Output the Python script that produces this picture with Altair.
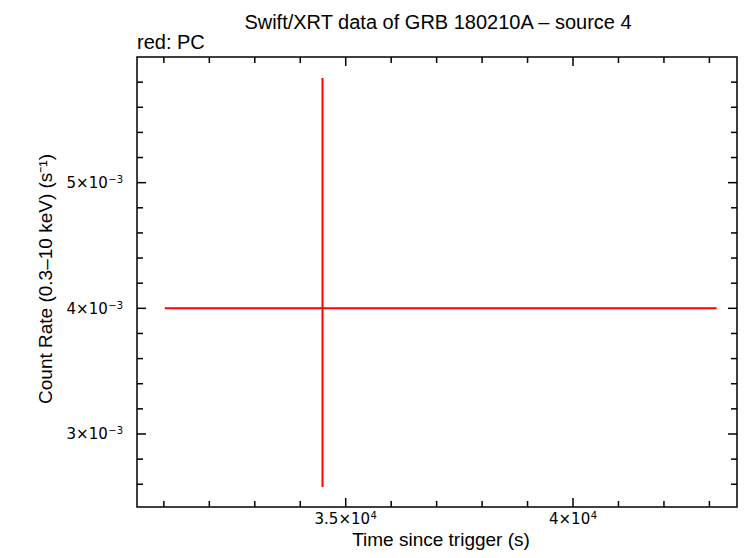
import altair as alt
import pandas as pd

# ---- data ----
time = [34490]
time_lo = [31020]
time_hi = [43160]
rate = [0.00400]
rate_lo = [0.002578]
rate_hi = [0.005833]

x_domain = [30409, 43607]
y_domain = [0.002419, 0.006]

x_major = [35000, 40000]
x_label_base = ["3.5×10", "4×10"]
x_label_exp = ["4", "4"]
x_minor = [31000, 32000, 33000, 34000, 36000, 37000, 38000, 39000, 41000, 42000, 43000]

y_major = [0.003, 0.004, 0.005]
y_label_base = ["3×10", "4×10", "5×10"]
y_label_exp = ["−3", "−3", "−3"]
y_minor = [0.0026, 0.0028, 0.0032, 0.0034, 0.0036, 0.0038, 0.0042, 0.0044,
           0.0046, 0.0048, 0.0052, 0.0054, 0.0056, 0.0058]

title_text = "Swift/XRT data of GRB 180210A – source 4"
legend_text = "red: PC"
x_title = "Time since trigger (s)"
y_title = "Count Rate (0.3–10 keV) (s⁻¹)"

W, H = 600, 450
FONT = "Liberation Sans"
LFONT = "DejaVu Sans"
LSIZE = 15
ESIZE = 10
RED = "#ff0000"

# approximate DejaVu Sans advance widths (em) for label layout
_EM = {".": 0.318, "×": 0.838, "−": 0.838}


def text_w(s, size):
    return sum(_EM.get(c, 0.636) for c in s) * size


pts = pd.DataFrame({"t": time, "tlo": time_lo, "thi": time_hi,
                    "r": rate, "rlo": rate_lo, "rhi": rate_hi})

xscale = alt.Scale(domain=x_domain, nice=False, zero=False)
yscale = alt.Scale(domain=y_domain, nice=False, zero=False)

hbar = alt.Chart(pts).mark_rule(color=RED, strokeWidth=2).encode(
    x=alt.X("tlo:Q", scale=xscale, axis=None),
    x2="thi:Q",
    y=alt.Y("r:Q", scale=yscale, axis=None),
)
vbar = alt.Chart(pts).mark_rule(color=RED, strokeWidth=2).encode(
    x=alt.X("t:Q", scale=xscale, axis=None),
    y=alt.Y("rlo:Q", scale=yscale, axis=None),
    y2="rhi:Q",
)


def xticks(values, length):
    df = pd.DataFrame({"v": values})
    bottom = alt.Chart(df).mark_rule(color="black", strokeWidth=1.5).encode(
        x=alt.X("v:Q", scale=xscale, axis=None),
        y=alt.value(H), y2=alt.value(H - length))
    top = alt.Chart(df).mark_rule(color="black", strokeWidth=1.5).encode(
        x=alt.X("v:Q", scale=xscale, axis=None),
        y=alt.value(0), y2=alt.value(length))
    return [bottom, top]


def yticks(values, length):
    df = pd.DataFrame({"v": values})
    left = alt.Chart(df).mark_rule(color="black", strokeWidth=1.5).encode(
        y=alt.Y("v:Q", scale=yscale, axis=None),
        x=alt.value(0), x2=alt.value(length))
    right = alt.Chart(df).mark_rule(color="black", strokeWidth=1.5).encode(
        y=alt.Y("v:Q", scale=yscale, axis=None),
        x=alt.value(W), x2=alt.value(W - length))
    return [left, right]


# x tick labels: base + raised exponent, centred as a whole on the tick
xlabels = []
for v, b, e in zip(x_major, x_label_base, x_label_exp):
    df = pd.DataFrame({"v": [v]})
    bw, ew, gap = text_w(b, LSIZE), text_w(e, ESIZE), 0.5
    total = bw + gap + ew
    xlabels.append(alt.Chart(df).mark_text(
        text=b, font=LFONT, fontSize=LSIZE, align="left",
        baseline="alphabetic", color="black", dx=-total / 2).encode(
        x=alt.X("v:Q", scale=xscale, axis=None), y=alt.value(H + 16.5)))
    xlabels.append(alt.Chart(df).mark_text(
        text=e, font=LFONT, fontSize=ESIZE, align="left",
        baseline="alphabetic", color="black",
        dx=-total / 2 + bw + gap).encode(
        x=alt.X("v:Q", scale=xscale, axis=None), y=alt.value(H + 12)))

# y tick labels
ylab_df = pd.DataFrame({"v": y_major, "b": y_label_base, "e": y_label_exp})
exp_w = text_w(y_label_exp[0], ESIZE)
ylabels_base = alt.Chart(ylab_df).mark_text(
    font=LFONT, fontSize=LSIZE, align="right", baseline="alphabetic",
    color="black", dy=5.5).encode(
    y=alt.Y("v:Q", scale=yscale, axis=None),
    x=alt.value(-14 - exp_w - 0.5), text="b:N")
ylabels_exp = alt.Chart(ylab_df).mark_text(
    font=LFONT, fontSize=ESIZE, align="right", baseline="alphabetic",
    color="black", dy=0.5).encode(
    y=alt.Y("v:Q", scale=yscale, axis=None),
    x=alt.value(-14), text="e:N")

title_mark = alt.Chart(pts).mark_text(
    text=title_text, font=FONT, fontSize=20, align="center",
    baseline="alphabetic", color="black").encode(
    x=alt.value(301), y=alt.value(-28))
legend_mark = alt.Chart(pts).mark_text(
    text=legend_text, font=FONT, fontSize=20, align="left",
    baseline="alphabetic", color="black").encode(
    x=alt.value(0), y=alt.value(-8))
xtitle_mark = alt.Chart(pts).mark_text(
    text=x_title, font=FONT, fontSize=19, align="center",
    baseline="alphabetic", color="black").encode(
    x=alt.value(304), y=alt.value(H + 38.5))
ytitle_mark = alt.Chart(pts).mark_text(
    text=y_title, font=FONT, fontSize=19, align="center", angle=270,
    baseline="alphabetic", color="black").encode(
    x=alt.value(-84.7), y=alt.value(222))

layers = (xticks(x_minor, 6) + xticks(x_major, 9)
          + yticks(y_minor, 6) + yticks(y_major, 9)
          + [hbar, vbar] + xlabels + [ylabels_base, ylabels_exp,
             title_mark, legend_mark, xtitle_mark, ytitle_mark])

chart = alt.layer(*layers).properties(
    width=W, height=H,
    autosize=alt.AutoSizeParams(type="none"),
    padding={"left": 129, "top": 49, "right": 1, "bottom": 43},
).configure_view(stroke="black", strokeWidth=1.5)

chart.save("out.html", embed_options={"renderer": "svg", "actions": False})
